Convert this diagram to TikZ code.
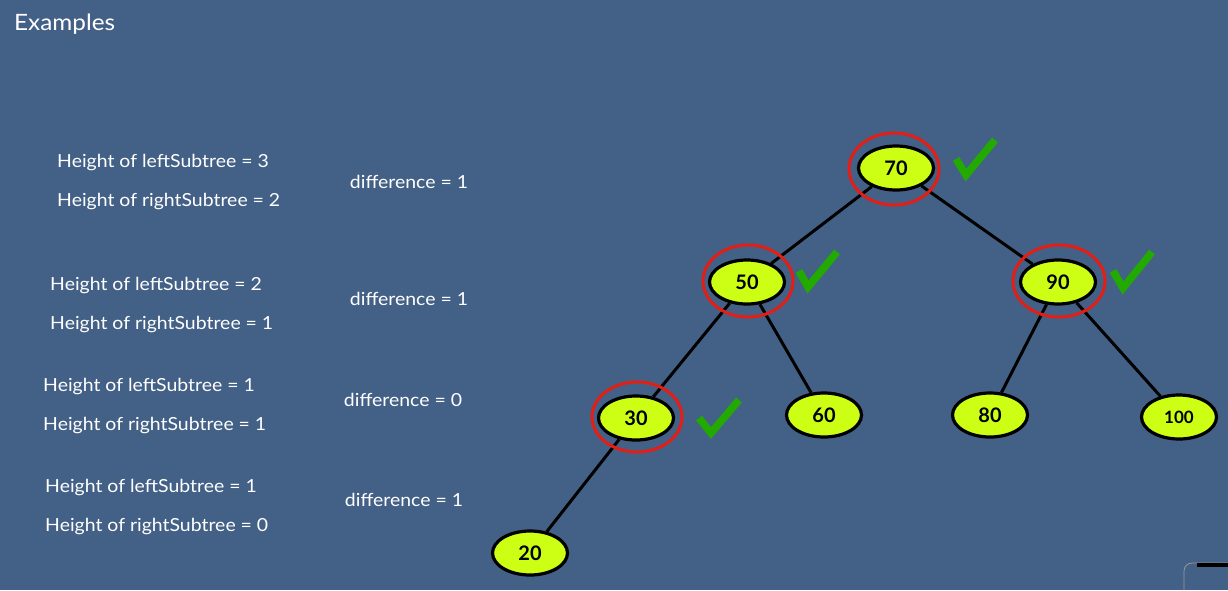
\documentclass[tikz,border=0pt]{standalone}
\usepackage{fontspec}
\setmainfont{Lato}
\newfontfamily\lblfont{Lato}[FakeStretch=1.08]
\usetikzlibrary{shapes.geometric}
\definecolor{bgblue}{RGB}{67,96,134}
\definecolor{nodefill}{RGB}{204,255,20}
\definecolor{ringred}{RGB}{228,30,20}
\definecolor{checkgreen}{RGB}{34,170,0}
\tikzset{
  treenode/.style={ellipse, draw=black, line width=3.2pt, fill=nodefill, minimum width=75pt, minimum height=44pt, inner sep=0pt, font=\fontsize{20}{20}\selectfont\bfseries, text=black},
  smallnum/.style={font=\fontsize{17}{17}\selectfont\bfseries},
  ring/.style={draw=ringred, line width=3pt},
  edge/.style={draw=black, line width=3pt},
  checkmk/.style={draw=checkgreen, line width=7.5pt, line join=miter},
  lbl/.style={anchor=west, text=white, font=\lblfont\fontsize{18}{18}\selectfont, inner sep=0pt},
  diff/.style={text=white, font=\lblfont\fontsize{18}{18}\selectfont, inner sep=0pt}
}
\begin{document}
\begin{tikzpicture}[x=1pt,y=-1pt]
\fill[bgblue] (0,0) rectangle (1228,590);
\useasboundingbox (0,0) rectangle (1228,590);

\node[anchor=west, text=white, font=\lblfont\fontsize{22.5}{22.5}\selectfont, inner sep=0pt] (title) at (14,24) {Examples};

% labels
\node[lbl] (l1a) at (57,163) {Height of leftSubtree = 3};
\node[lbl] (l1b) at (57,202) {Height of rightSubtree = 2};
\node[diff] (d1) at (409,182) {difference = 1};
\node[lbl] (l2a) at (50,286) {Height of leftSubtree = 2};
\node[lbl] (l2b) at (50,325) {Height of rightSubtree = 1};
\node[diff] (d2) at (409,299) {difference = 1};
\node[lbl] (l3a) at (43,387) {Height of leftSubtree = 1};
\node[lbl] (l3b) at (43,426) {Height of rightSubtree = 1};
\node[diff] (d3) at (403,400) {difference = 0};
\node[lbl] (l4a) at (45,488) {Height of leftSubtree = 1};
\node[lbl] (l4b) at (45,527) {Height of rightSubtree = 0};
\node[diff] (d4) at (404,500) {difference = 1};

% tree nodes
\node[treenode] (n70) at (896,168) {70};
\node[treenode] (n50) at (747,282) {50};
\node[treenode] (n90) at (1058,282) {90};
\node[treenode] (n30) at (636,418) {30};
\node[treenode] (n60) at (824,415) {60};
\node[treenode] (n80) at (990,415) {80};
\node[treenode, smallnum] (n100) at (1179,417) {100};
\node[treenode] (n20) at (530,553) {20};

% edges
\path[edge] (n70) -- (n50);
\path[edge] (n70) -- (n90);
\path[edge] (n50) -- (n30);
\path[edge] (n50) -- (n60);
\path[edge] (n90) -- (n80);
\path[edge] (n90) -- (n100);
\path[edge] (n30) -- (n20);

% red rings
\draw[ring] (894,169) ellipse [x radius=45, y radius=36];
\draw[ring] (748,281) ellipse [x radius=45, y radius=36];
\draw[ring] (1059,281) ellipse [x radius=46, y radius=36];
\draw[ring] (637,417) ellipse [x radius=45, y radius=35];

% check marks
\draw[checkmk] (956,159) -- (966,175) -- (995,140);
\draw[checkmk] (799,271) -- (808,287) -- (837,252);
\draw[checkmk] (1113,271) -- (1123,288) -- (1152,252);
\draw[checkmk] (699,418) -- (711,433) -- (739,400);

% corner fragment
\draw[gray!80, line width=0.8pt] (1184,590) -- (1184,571) arc[start angle=180, end angle=90, x radius=8, y radius=-8] -- (1228,563);
\fill[black] (1197,563) rectangle (1228,567);
\end{tikzpicture}
\end{document}
